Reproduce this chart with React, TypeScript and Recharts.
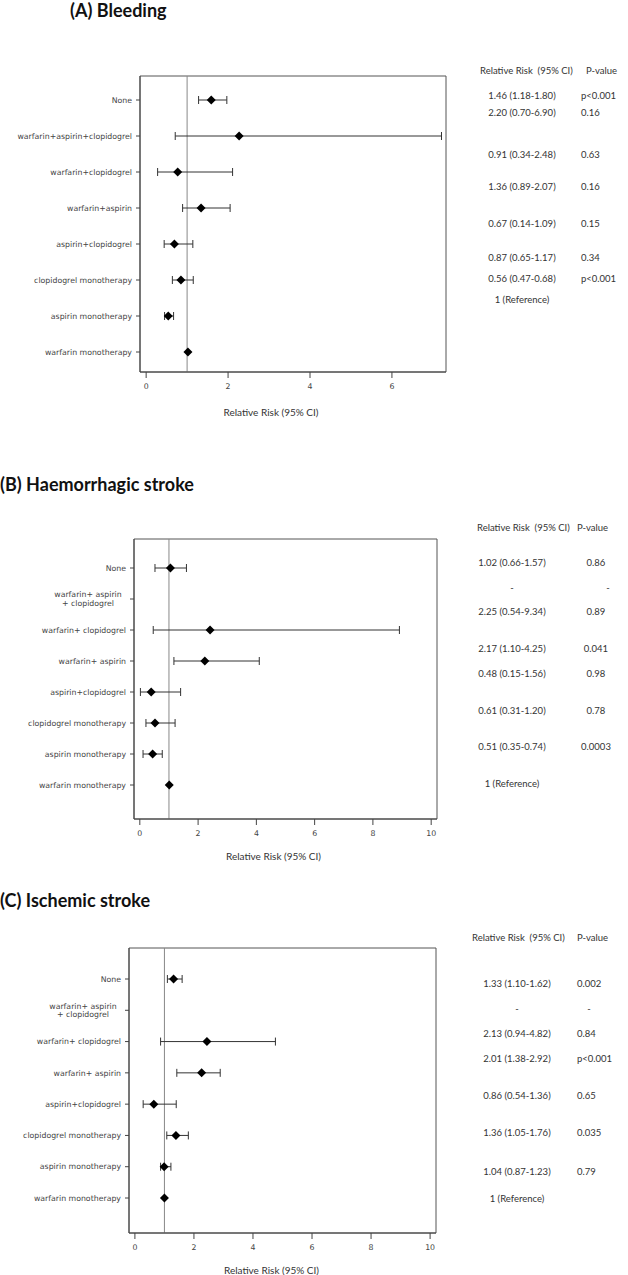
import { ComposedChart, Scatter, ErrorBar, XAxis, YAxis, ReferenceLine, ReferenceArea } from 'recharts'

// (A) Bleeding
const bleedLabels = ['None', 'warfarin+aspirin+clopidogrel', 'warfarin+clopidogrel', 'warfarin+aspirin', 'aspirin+clopidogrel', 'clopidogrel monotherapy', 'aspirin monotherapy', 'warfarin monotherapy']
const bleedEst = [1.59, 2.27, 0.77, 1.34, 0.69, 0.85, 0.54, 1.02]
const bleedLow = [1.28, 0.71, 0.28, 0.89, 0.44, 0.64, 0.45, null]
const bleedHigh = [1.97, 7.21, 2.11, 2.05, 1.14, 1.15, 0.67, null]
const bleedRR = ['1.46 (1.18-1.80)', '2.20 (0.70-6.90)', '0.91 (0.34-2.48)', '1.36 (0.89-2.07)', '0.67 (0.14-1.09)', '0.87 (0.65-1.17)', '0.56 (0.47-0.68)', '1 (Reference)']
const bleedP = ['p<0.001', '0.16', '0.63', '0.16', '0.15', '0.34', 'p<0.001', '']

// (B) Haemorrhagic stroke
const haemLabels = ['None', 'warfarin+ aspirin\n+ clopidogrel', 'warfarin+ clopidogrel', 'warfarin+ aspirin', 'aspirin+clopidogrel', 'clopidogrel monotherapy', 'aspirin monotherapy', 'warfarin monotherapy']
const haemEst = [1.05, null, 2.41, 2.23, 0.39, 0.52, 0.44, 1.01]
const haemLow = [0.52, null, 0.46, 1.17, 0.02, 0.21, 0.11, null]
const haemHigh = [1.6, null, 8.91, 4.1, 1.4, 1.21, 0.77, null]
const haemRR = ['1.02 (0.66-1.57)', '-', '2.25 (0.54-9.34)', '2.17 (1.10-4.25)', '0.48 (0.15-1.56)', '0.61 (0.31-1.20)', '0.51 (0.35-0.74)', '1 (Reference)']
const haemP = ['0.86', '-', '0.89', '0.041', '0.98', '0.78', '0.0003', '']

// (C) Ischemic stroke
const ischLabels = ['None', 'warfarin+ aspirin\n+ clopidogrel', 'warfarin+ clopidogrel', 'warfarin+ aspirin', 'aspirin+clopidogrel', 'clopidogrel monotherapy', 'aspirin monotherapy', 'warfarin monotherapy']
const ischEst = [1.31, null, 2.44, 2.26, 0.64, 1.39, 0.99, 1.0]
const ischLow = [1.1, null, 0.87, 1.42, 0.28, 1.08, 0.87, null]
const ischHigh = [1.6, null, 4.76, 2.89, 1.4, 1.81, 1.22, null]
const ischRR = ['1.33 (1.10-1.62)', '-', '2.13 (0.94-4.82)', '2.01 (1.38-2.92)', '0.86 (0.54-1.36)', '1.36 (1.05-1.76)', '1.04 (0.87-1.23)', '1 (Reference)']
const ischP = ['0.002', '-', '0.84', 'p<0.001', '0.65', '0.035', '0.79', '']

const ticksA = [0, 2, 4, 6]
const ticksBC = [0, 2, 4, 6, 8, 10]

type Row = { label: string; est: number | null; lo: number | null; hi: number | null }

const makeRows = (labels: string[], est: (number | null)[], lo: (number | null)[], hi: (number | null)[]): Row[] =>
  labels.map((label, i) => ({ label, est: est[i], lo: lo[i], hi: hi[i] }))

const labelFont = 'DejaVu Sans'
const textFont = 'Lato, "Open Sans", sans-serif'

const RowTick = ({ x, y, payload }: any) => {
  const lines = String(payload.value).split('\n')
  if (lines.length === 1) {
    return (
      <text x={x} y={y} dy='0.35em' textAnchor='end' fill='#444' fontSize={7.8} fontFamily={labelFont}>
        {lines[0]}
      </text>
    )
  }
  return (
    <text x={x} y={y} textAnchor='middle' fill='#444' fontSize={7.8} fontFamily={labelFont}>
      <tspan x={x - 38} dy='-0.2em'>{lines[0]}</tspan>
      <tspan x={x - 38} dy='1.1em'>{lines[1]}</tspan>
    </text>
  )
}

const Diamond = ({ cx, cy }: any) => {
  if (cx == null || cy == null || isNaN(cx)) return <g />
  const r = 4.5
  return <polygon points={`${cx},${cy - r} ${cx + r},${cy} ${cx},${cy + r} ${cx - r},${cy}`} fill='#000' />
}

const ciOf = (d: Row) => (d.est == null || d.lo == null || d.hi == null ? undefined : [d.est - d.lo, d.hi - d.est])

type PanelProps = {
  rows: Row[]
  domain: [number, number]
  ticks: number[]
  top: number
  plotTop: number
  plotBottom: number
  plotLeft: number
  plotRight: number
  axisH: number
  pad: { top: number; bottom: number }
  titleDx: number
}

const Forest = (p: PanelProps) => {
  const h = p.plotBottom - p.top + p.axisH + 8
  return (
    <div style={{ position: 'absolute', left: 0, top: p.top }}>
      <ComposedChart
        width={628}
        height={h}
        layout='vertical'
        data={p.rows}
        margin={{ top: p.plotTop - p.top, right: 628 - p.plotRight, left: 0, bottom: 8 }}
      >
        <XAxis
          type='number'
          dataKey='est'
          domain={p.domain}
          ticks={p.ticks}
          allowDataOverflow
          height={p.axisH}
          tickSize={6}
          tickMargin={5}
          stroke='#444'
          tick={{ fill: '#444', fontSize: 7.8, fontFamily: labelFont }}
          label={{ value: 'Relative Risk (95% CI)', position: 'insideBottom', offset: 0, dx: p.titleDx, fill: '#333', fontSize: 10, fontFamily: textFont }}
        />
        <YAxis
          type='category'
          dataKey='label'
          width={p.plotLeft}
          padding={p.pad}
          tickSize={4}
          tickMargin={4}
          stroke='#444'
          interval={0}
          tick={<RowTick />}
        />
        {/* unpadded copy of the row axis, used only to draw the plot frame */}
        <YAxis yAxisId='frame' type='category' dataKey='label' hide />
        <ReferenceArea
          yAxisId='frame'
          x1={p.domain[0]}
          x2={p.domain[1]}
          y1={p.rows[0].label}
          y2={p.rows[p.rows.length - 1].label}
          fill='none'
          stroke='#555'
          strokeWidth={1}
          ifOverflow='visible'
        />
        <ReferenceLine x={1} stroke='#888' strokeWidth={1} />
        <Scatter dataKey='est' shape={<Diamond />} isAnimationActive={false}>
          <ErrorBar dataKey={ciOf as any} direction='x' width={4} stroke='#333' strokeWidth={1} />
        </Scatter>
      </ComposedChart>
    </div>
  )
}

type TableProps = {
  rr: string[]
  pv: string[]
  rowY: number[]
  headY: number
  rrHeadX: number
  pHeadX: number
  rrX: number
  pX: number
  pAnchor: 'start' | 'middle'
}

const Table = (t: TableProps) => (
  <g fontFamily={textFont} fontSize={9.5} fill='#333'>
    <text x={t.rrHeadX} y={t.headY + 3.5} xmlSpace='preserve'>{'Relative Risk  (95% CI)'}</text>
    <text x={t.pHeadX} y={t.headY + 3.5}>P-value</text>
    {t.rr.map((s, i) => (
      <text key={'r' + i} x={t.rrX} y={t.rowY[i] + 3.5} textAnchor='middle'>{s}</text>
    ))}
    {t.pv.map((s, i) => (
      <text key={'p' + i} x={s === '-' ? t.pX + 12 : t.pX} y={t.rowY[i] + 3.5} textAnchor={s === '-' ? 'middle' : t.pAnchor}>{s}</text>
    ))}
  </g>
)

export default function App() {
  return (
    <div style={{ position: 'absolute', left: 0, top: 0, width: 628, height: 1275, background: '#fff', overflow: 'hidden' }}>
      <Forest
        rows={makeRows(bleedLabels, bleedEst, bleedLow, bleedHigh)}
        domain={[-0.15, 7.32]}
        ticks={ticksA}
        top={0}
        plotTop={76}
        plotBottom={372}
        plotLeft={140}
        plotRight={446}
        axisH={44}
        pad={{ top: 24, bottom: 20 }}
        titleDx={-22}
      />
      <Forest
        rows={makeRows(haemLabels, haemEst, haemLow, haemHigh)}
        domain={[-0.2, 10.2]}
        ticks={ticksBC}
        top={500}
        plotTop={539}
        plotBottom={819}
        plotLeft={134}
        plotRight={437}
        axisH={41}
        pad={{ top: 29, bottom: 34 }}
        titleDx={-12}
      />
      <Forest
        rows={makeRows(ischLabels, ischEst, ischLow, ischHigh)}
        domain={[-0.2, 10.2]}
        ticks={ticksBC}
        top={920}
        plotTop={948}
        plotBottom={1233}
        plotLeft={129}
        plotRight={436}
        axisH={41}
        pad={{ top: 31, bottom: 35 }}
        titleDx={-11}
      />
      <svg width={628} height={1275} style={{ position: 'absolute', left: 0, top: 0, pointerEvents: 'none' }}>
        <g fontFamily={textFont} fontWeight='bold' fontSize={18} fill='#111'>
          <text x={70} y={17}>(A) Bleeding</text>
          <text x={0} y={491}>(B) Haemorrhagic stroke</text>
          <text x={0} y={907}>(C) Ischemic stroke</text>
        </g>
        <Table rr={bleedRR} pv={bleedP} rowY={[95, 112, 154, 186, 223, 257, 278, 299]} headY={70} rrHeadX={480} pHeadX={586} rrX={522} pX={581} pAnchor='start' />
        <Table rr={haemRR} pv={haemP} rowY={[562, 587, 611, 648, 673, 710, 746, 783]} headY={527} rrHeadX={477} pHeadX={577} rrX={512} pX={596} pAnchor='middle' />
        <Table rr={ischRR} pv={ischP} rowY={[983, 1008, 1033, 1058, 1095, 1132, 1171, 1198]} headY={937} rrHeadX={472} pHeadX={577} rrX={517} pX={577} pAnchor='start' />
      </svg>
    </div>
  )
}
